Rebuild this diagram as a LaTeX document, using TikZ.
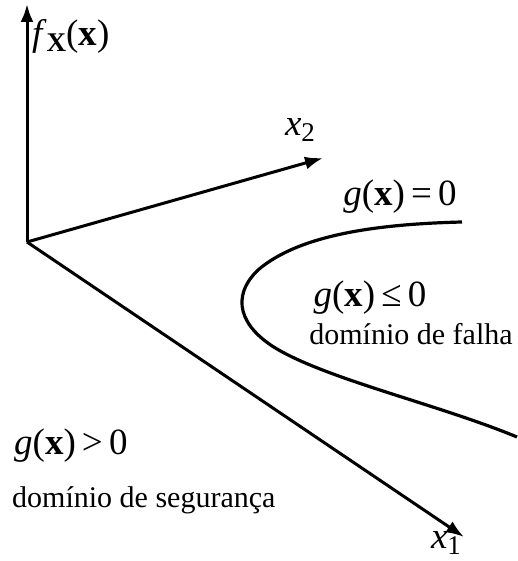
\documentclass[tikz,border=0pt]{standalone}
\usepackage{fontspec}
\setmainfont{Liberation Serif}
\usetikzlibrary{arrows.meta}
\tikzset{
  axis/.style={line width=3pt, -{Latex[length=18pt,width=13pt]}},
  bound/.style={line width=3.2pt},
  lbl/.style={inner sep=0pt, font=\fontsize{37}{40}\selectfont},
  dom/.style={inner sep=0pt, font=\fontsize{30}{34}\selectfont},
}
\begin{document}
\begin{tikzpicture}[x=1pt,y=-1pt]
\useasboundingbox (0,0) rectangle (517,561);
\coordinate (O) at (27,242);
\coordinate (ftip) at (27,4);
\coordinate (x2tip) at (323,158);
\coordinate (x1tip) at (464,537);
\draw[axis] (O) -- (ftip);
\draw[axis] (O) -- (x2tip);
\draw[axis] (O) -- (x1tip);
\node[lbl, anchor=west] (flab) at (32,36) {\textit{f}\raisebox{-0.35ex}{\fontsize{27}{28}\selectfont\textbf{X}}(\textbf{x})};
\node[lbl, anchor=center] (x2lab) at (300,130) {\textit{x}\raisebox{-0.35ex}{\fontsize{27}{28}\selectfont 2}};
\node[lbl, anchor=center] (x1lab) at (446,543) {\textit{x}\raisebox{-0.35ex}{\fontsize{27}{28}\selectfont 1}};
\coordinate (c0) at (462,222);
\coordinate (c1) at (517,437);
\draw[bound] (c0) .. controls (380,224) and (300,234) .. (258,270)
  .. controls (230,297) and (240,327) .. (277,349)
  .. controls (330,380) and (440,405) .. (c1);
\node[lbl, anchor=center] (g0) at (400,197) {\textit{g}(\textbf{x})\,=\,0};
\node[lbl, anchor=center] (gle) at (370,298) {\textit{g}(\textbf{x})\,≤\,0};
\node[dom, anchor=center] (falha) at (411,334) {domínio de falha};
\node[lbl, anchor=west] (ggt) at (14,446) {\textit{g}(\textbf{x})\,>\,0};
\node[dom, anchor=west] (seg) at (12,500) {domínio de segurança};
\end{tikzpicture}
\end{document}
